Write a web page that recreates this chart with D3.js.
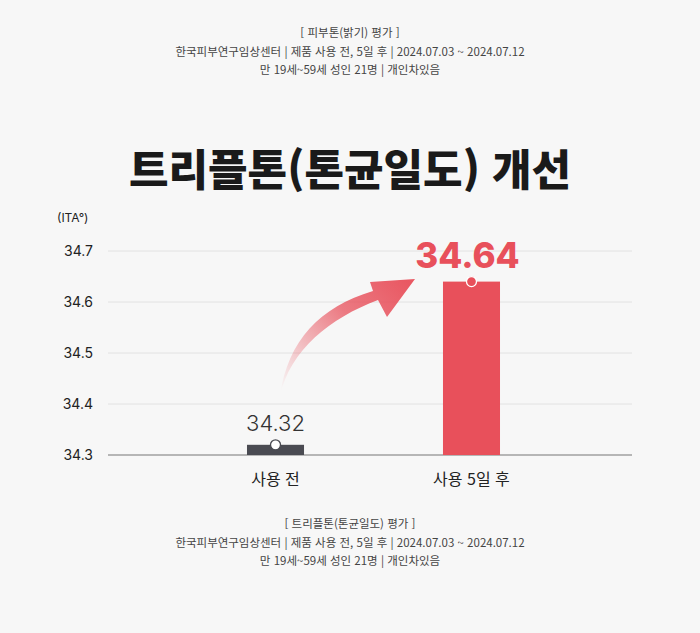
<!DOCTYPE html>
<html lang="ko">
<head>
<meta charset="utf-8">
<title>트리플톤 개선</title>
<script src="https://cdn.jsdelivr.net/npm/d3@7"></script>
<style>
  body { margin: 0; background: #f7f7f7; }
  svg { display: block; font-family: "Noto Sans CJK KR", "Noto Sans", sans-serif; }
</style>
</head>
<body>
<svg width="700" height="633"></svg>
<script>
// data
const categories = ["사용 전", "사용 5일 후"];
const values = [34.32, 34.64];
const valueLabels = ["34.32", "34.64"];
const yTicks = [34.3, 34.4, 34.5, 34.6, 34.7];
const headerLines = ["[ 피부톤(밝기) 평가 ]", "한국피부연구임상센터 | 제품 사용 전, 5일 후 | 2024.07.03 ~ 2024.07.12", "만 19세~59세 성인 21명 | 개인차있음"];
const footerLines = ["[ 트리플톤(톤균일도) 평가 ]", "한국피부연구임상센터 | 제품 사용 전, 5일 후 | 2024.07.03 ~ 2024.07.12", "만 19세~59세 성인 21명 | 개인차있음"];

const svg = d3.select("svg");
const red = "#e8505b", dark = "#4a4b52";

svg.append("rect").attr("width", 700).attr("height", 633).attr("fill", "#f7f7f7");

// header + footer notes
function notes(lines, y0) {
  svg.selectAll(null).data(lines).enter().append("text")
    .attr("x", 350).attr("y", (d, i) => y0 + i * 18.5)
    .attr("text-anchor", "middle")
    .attr("font-size", 11.5).attr("fill", "#444")
    .text(d => d);
}
notes(headerLines, 37);
notes(footerLines, 528);

// title
svg.append("text").attr("x", 350).attr("y", 186)
  .attr("text-anchor", "middle").attr("font-size", 43).attr("font-weight", 900)
  .attr("fill", "#1a1a1a").text("트리플톤(톤균일도) 개선");

// scales
const y = d3.scaleLinear().domain([34.3, 34.7]).range([455, 251]);
const x = d3.scaleBand().domain(categories).range([149, 598])
  .paddingInner(0.709).paddingOuter(0.5);

// grid
svg.selectAll("line.grid").data(yTicks).enter().append("line")
  .attr("x1", 108).attr("x2", 632)
  .attr("y1", d => y(d)).attr("y2", d => y(d))
  .attr("stroke", d => d === 34.3 ? "#777" : "#e2e2e2")
  .attr("stroke-width", d => d === 34.3 ? 1.2 : 1);

svg.selectAll("text.tick").data(yTicks).enter().append("text")
  .attr("x", 93).attr("y", d => y(d) + 5)
  .attr("text-anchor", "end").attr("font-size", 14).attr("fill", "#222")
  .attr("font-family", "Inter, sans-serif")
  .text(d => d.toFixed(1));

svg.append("text").attr("x", 57).attr("y", 222).attr("font-size", 12)
  .attr("fill", "#222").attr("font-family", "Inter, sans-serif").text("(ITA°)");

// arrow
const defs = svg.append("defs");
const grad = defs.append("linearGradient").attr("id", "ag")
  .attr("gradientUnits", "userSpaceOnUse")
  .attr("x1", 285).attr("y1", 395).attr("x2", 410).attr("y2", 285);
grad.append("stop").attr("offset", 0).attr("stop-color", red).attr("stop-opacity", 0);
grad.append("stop").attr("offset", 0.6).attr("stop-color", red).attr("stop-opacity", 0.75);
grad.append("stop").attr("offset", 1).attr("stop-color", red).attr("stop-opacity", 0.95);

svg.append("path")
  .attr("d", "M280,396 C290,350 330,318 378,300 L387,317 L415,279 L370,282 L373,291 C320,307 288,340 280,396 Z")
  .attr("fill", "url(#ag)");

// bars
svg.selectAll("rect.bar").data(values).enter().append("rect")
  .attr("x", (d, i) => x(categories[i]))
  .attr("width", x.bandwidth())
  .attr("y", d => y(d))
  .attr("height", d => y(34.3) - y(d))
  .attr("fill", (d, i) => i === 0 ? dark : red);

svg.selectAll("circle.dot").data(values).enter().append("circle")
  .attr("cx", (d, i) => x(categories[i]) + x.bandwidth() / 2)
  .attr("cy", d => y(d))
  .attr("r", 5)
  .attr("fill", (d, i) => i === 0 ? "#fff" : red)
  .attr("stroke", (d, i) => i === 0 ? dark : "#fff")
  .attr("stroke-width", 1.3);

// value labels
svg.selectAll("text.val").data(values).enter().append("text")
  .attr("x", (d, i) => x(categories[i]) + x.bandwidth() / 2 - (i === 0 ? 0 : 4))
  .attr("y", (d, i) => y(d) - (i === 0 ? 14 : 14))
  .attr("text-anchor", "middle")
  .attr("font-family", "Inter, sans-serif")
  .attr("font-size", (d, i) => i === 0 ? 22 : 35)
  .attr("font-weight", (d, i) => i === 0 ? 300 : 800)
  .attr("fill", (d, i) => i === 0 ? "#333" : red)
  .text((d, i) => valueLabels[i]);

// category labels
svg.selectAll("text.cat").data(categories).enter().append("text")
  .attr("x", d => x(d) + x.bandwidth() / 2)
  .attr("y", 485)
  .attr("text-anchor", "middle").attr("font-size", 16).attr("fill", "#222")
  .text(d => d);
</script>
</body>
</html>
